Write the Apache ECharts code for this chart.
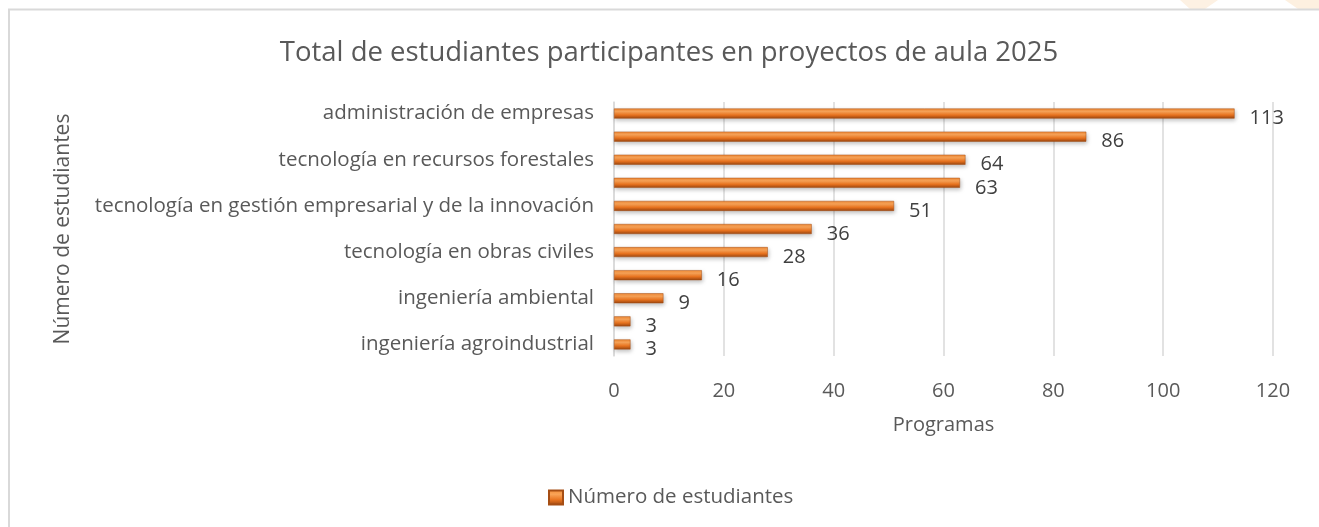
<!DOCTYPE html>
<html>
<head>
<meta charset="utf-8">
<script src="https://cdn.jsdelivr.net/npm/echarts@6/dist/echarts.min.js"></script>
<style>
    html, body { margin: 0; padding: 0; background: #fff; }
    #chart { width: 1319px; height: 527px; }
</style>
</head>
<body>
<div id="chart"></div>
<script>
// programas (de arriba hacia abajo); las etiquetas intermedias no se ven en el original
const programas = [
    'administración de empresas',
    '',
    'tecnología en recursos forestales',
    '',
    'tecnología en gestión empresarial y de la innovación',
    '',
    'tecnología en obras civiles',
    '',
    'ingeniería ambiental',
    '',
    'ingeniería agroindustrial'
];
const estudiantes = [113, 86, 64, 63, 51, 36, 28, 16, 9, 3, 3];
const ticksX = [0, 20, 40, 60, 80, 100, 120];

const FONT = 'Open Sans';
const GRIS = '#595959';

const barColor = new echarts.graphic.LinearGradient(0, 0, 0, 1, [
    { offset: 0, color: '#f28a35' },
    { offset: 0.3, color: '#f9a458' },
    { offset: 0.65, color: '#e8731f' },
    { offset: 1, color: '#9a4510' }
]);

const chart = echarts.init(document.getElementById('chart'));

let option = {
    animation: false,
    textStyle: { fontFamily: FONT },
    title: {
        text: 'Total de estudiantes participantes en proyectos de aula 2025',
        left: 664,
        textAlign: 'center',
        top: 34,
        textStyle: { fontFamily: FONT, fontSize: 27.5, fontWeight: 'normal', color: GRIS }
    },
    legend: {
        data: ['Número de estudiantes'],
        left: 543,
        top: 482,
        itemWidth: 14,
        itemHeight: 14,
        itemGap: 5,
        icon: 'rect',
        textStyle: { fontFamily: FONT, fontSize: 20.5, color: GRIS }
    },
    grid: {
        left: 614,
        right: 46,
        top: 102,
        bottom: 171
    },
    xAxis: {
        type: 'value',
        min: ticksX[0],
        max: ticksX[ticksX.length - 1],
        interval: 20,
        name: 'Programas',
        nameLocation: 'middle',
        nameGap: 59,
        nameTextStyle: { fontFamily: FONT, fontSize: 20, color: GRIS },
        axisLine: { show: false },
        axisTick: { show: false },
        axisLabel: { fontFamily: FONT, fontSize: 20, color: GRIS, margin: 25 },
        splitLine: { lineStyle: { color: '#d9d9d9', width: 1.5 } }
    },
    yAxis: {
        type: 'category',
        data: programas,
        inverse: true,
        name: 'Número de estudiantes',
        nameLocation: 'middle',
        nameRotate: 90,
        nameGap: 540,
        nameTextStyle: { fontFamily: FONT, fontSize: 21, color: GRIS },
        axisLine: { lineStyle: { color: '#d9d9d9', width: 1.5 } },
        axisTick: { show: false },
        axisLabel: { interval: 0, fontFamily: FONT, fontSize: 20.5, color: GRIS, margin: 20 }
    },
    series: [{
        name: 'Número de estudiantes',
        type: 'bar',
        data: estudiantes,
        barWidth: 10,
        itemStyle: {
            color: barColor,
            borderColor: '#a64e14',
            borderWidth: 0.5,
            shadowColor: 'rgba(0,0,0,0.25)',
            shadowBlur: 4,
            shadowOffsetX: 1,
            shadowOffsetY: 2
        },
        label: {
            show: true,
            position: 'right',
            distance: 15,
            fontFamily: FONT,
            fontSize: 20,
            color: '#404040',
            offset: [0, 5]
        }
    }],
    graphic: [{
        // manchas tenues de fondo arriba a la derecha
        type: 'polygon',
        shape: { points: [[1180, 0], [1218, 0], [1205, 9], [1190, 9]] },
        style: { fill: '#fdf1e3' },
        silent: true
    }, {
        type: 'polygon',
        shape: { points: [[1285, 0], [1319, 0], [1319, 9], [1298, 9]] },
        style: { fill: '#fdf0e0' },
        silent: true
    }, {
        type: 'polyline',
        shape: { points: [[9, 527], [9, 9.5], [1319, 9.5]] },
        style: { stroke: '#d9d9d9', lineWidth: 2, fill: null },
        silent: true
    }]
};

chart.setOption(option);
</script>
</body>
</html>
